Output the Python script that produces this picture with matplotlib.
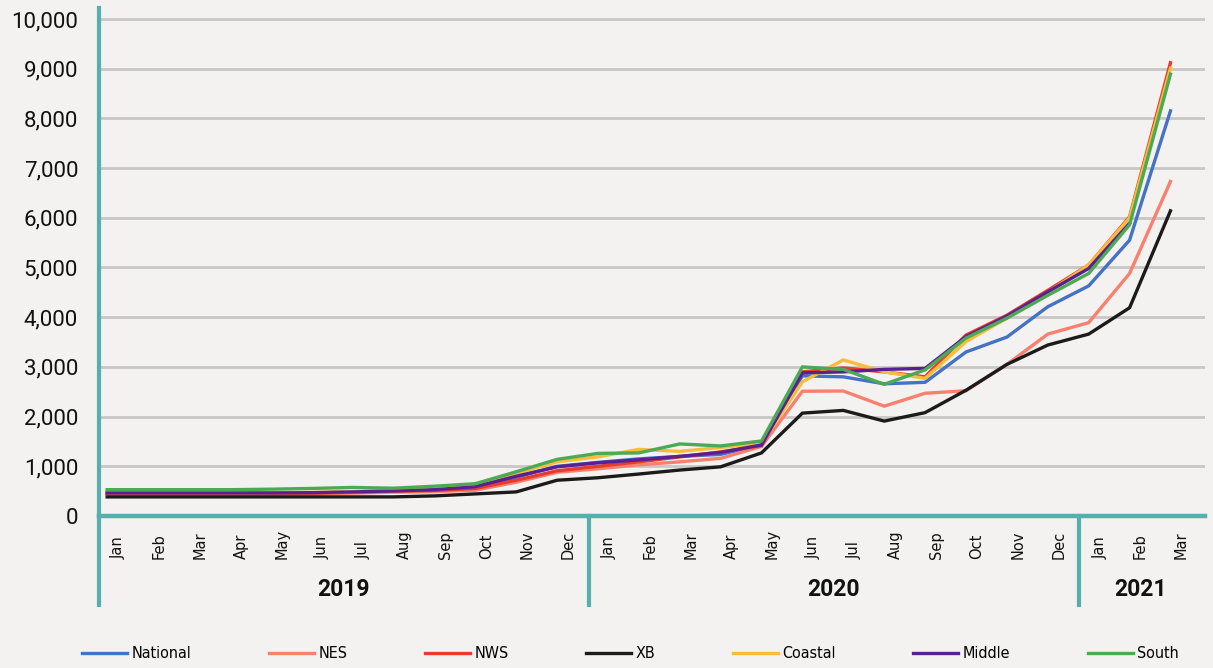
import matplotlib.pyplot as plt
import matplotlib.transforms as mtransforms
from matplotlib import font_manager

plt.rcParams["font.family"] = ["Roboto", "DejaVu Sans"]

months = ["Jan", "Feb", "Mar", "Apr", "May", "Jun", "Jul", "Aug", "Sep", "Oct", "Nov", "Dec"] * 2 + ["Jan", "Feb", "Mar"]
years = ["2019", "2020", "2021"]
year_len = [12, 12, 3]

national = [460, 460, 460, 460, 460, 465, 480, 500, 520, 560, 780, 1000,
            1080, 1150, 1200, 1240, 1430, 2820, 2800, 2660, 2690, 3300, 3600, 4210,
            4630, 5550, 8150]
nes = [440, 440, 440, 440, 440, 445, 460, 480, 490, 520, 680, 880,
       950, 1030, 1090, 1160, 1400, 2510, 2515, 2210, 2470, 2520, 3050, 3660,
       3890, 4880, 6730]
nws = [455, 455, 455, 455, 455, 460, 480, 500, 515, 555, 720, 910,
       1000, 1090, 1190, 1290, 1415, 2900, 2980, 2900, 2800, 3640, 4040, 4540,
       5050, 6020, 9120]
xb = [385, 385, 385, 385, 385, 385, 385, 385, 405, 445, 485, 720,
      770, 845, 925, 990, 1270, 2070, 2125, 1910, 2080, 2530, 3050, 3440,
      3660, 4190, 6140]
coastal = [470, 470, 470, 470, 470, 475, 490, 515, 540, 620, 860, 1090,
           1190, 1340, 1300, 1380, 1460, 2700, 3140, 2900, 2770, 3510, 3980, 4500,
           5050, 6000, 9010]
middle = [465, 465, 465, 465, 465, 470, 485, 505, 530, 590, 800, 990,
          1070, 1130, 1200, 1280, 1430, 2880, 2900, 2950, 2970, 3610, 4020, 4510,
          4980, 5890, None]
south = [530, 530, 530, 530, 540, 555, 575, 560, 600, 650, 890, 1140,
         1260, 1270, 1450, 1410, 1510, 3000, 2950, 2650, 2940, 3580, 3980, 4440,
         4880, 5860, 8890]

series = [("National", national, "#4472C4"),
          ("NES", nes, "#F8806F"),
          ("NWS", nws, "#E93A2E"),
          ("XB", xb, "#1B1B1B"),
          ("Coastal", coastal, "#F7BD3B"),
          ("Middle", middle, "#5A2092"),
          ("South", south, "#4CAA55")]

bg = "#F3F2F0"
teal = "#55AFAD"
off = 0.27  # category labels sit a bit right of the points

fig = plt.figure(figsize=(12.13, 6.68), dpi=100, facecolor=bg)
ax = fig.add_axes([0.0816, 0.2275, 0.912, 0.7605], facecolor=bg)

x = list(range(len(months)))
for name, vals, col in series:
    xs = [i for i, v in zip(x, vals) if v is not None]
    ys = [v for v in vals if v is not None]
    ax.plot(xs, ys, color=col, lw=2.4, label=name, solid_joinstyle="miter", zorder=3)

ax.set_xlim(-0.2, 26.85)
ax.set_ylim(0, 10220)
ax.tick_params(axis="y", length=0, pad=15, labelsize=16, labelcolor="#111111")
ax.set_yticks(range(0, 10001, 1000))
ax.set_yticklabels([f"{v:,}" for v in range(0, 10001, 1000)])
ax.grid(axis="y", color="#C8C7C5", lw=2)
ax.set_axisbelow(True)
ax.set_xticks([])
for s in ["top", "right"]:
    ax.spines[s].set_visible(False)
ax.spines["left"].set_color(teal)
ax.spines["left"].set_linewidth(3)
ax.spines["bottom"].set_color(teal)
ax.spines["bottom"].set_linewidth(3.2)
ax.spines["left"].set_position(("data", -0.2))

trans = mtransforms.blended_transform_factory(ax.transData, ax.transAxes)
for i, m in enumerate(months):
    ax.text(i + off, -0.0846, m, rotation=90, ha="center", va="bottom",
            fontsize=10.5, family="DejaVu Sans", color="#111111", transform=trans)

# year groups and separators
start = 0
bounds = [-0.5 + off]
for yr, n in zip(years, year_len):
    mid = start + (n - 1) / 2 + off
    ax.text(mid, -0.145, yr, ha="center", va="center", fontsize=16.5, fontweight="bold",
            color="#111111", transform=trans)
    start += n
    bounds.append(start - 0.5 + off)
for b in bounds[1:-1]:
    ax.plot([b, b], [0, -0.175], color=teal, lw=3, transform=trans, clip_on=False)
ax.plot([-0.2, -0.2], [0, -0.175], color=teal, lw=3, transform=trans, clip_on=False)

fig.legend(loc="center", bbox_to_anchor=(0.52, 0.021), ncol=7, frameon=False,
           handlelength=2.8, handletextpad=0.3, columnspacing=4.85,
           prop=font_manager.FontProperties(family="DejaVu Sans", stretch="condensed", size=11.5))

fig.savefig("out.png", dpi=100, facecolor=bg)
